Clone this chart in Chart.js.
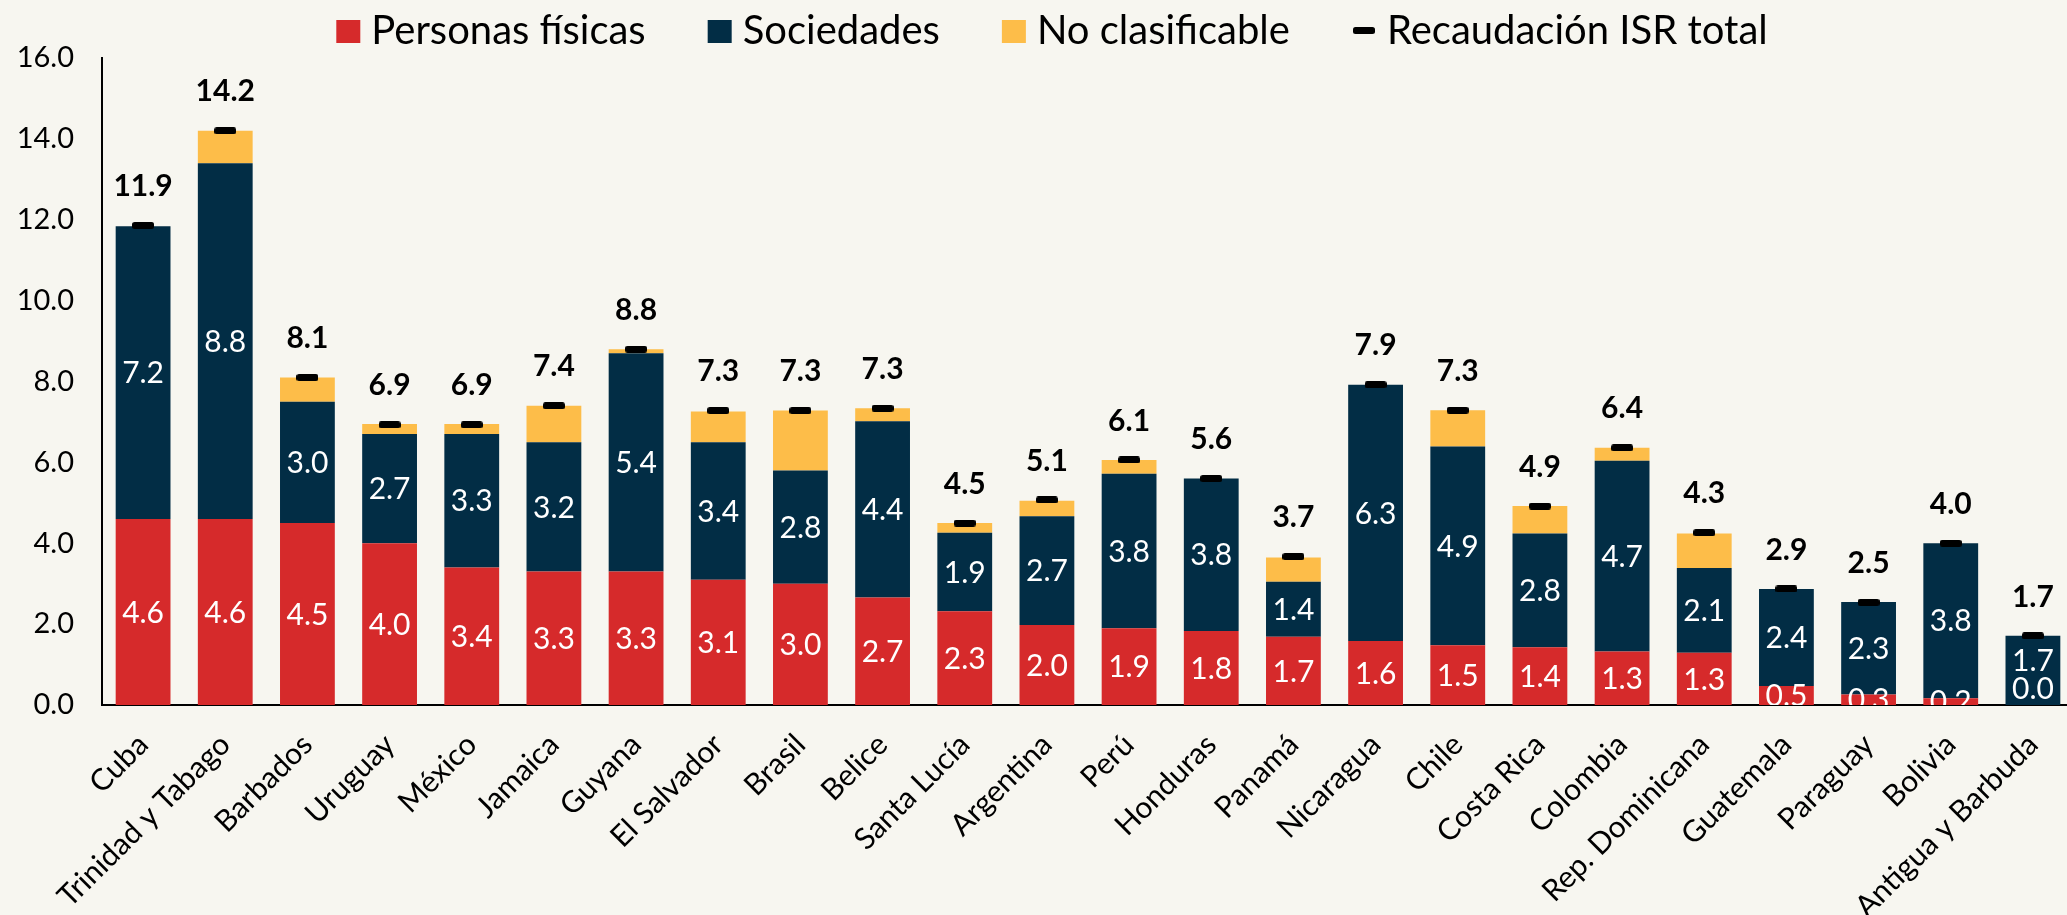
<!DOCTYPE html>
<html>
<head>
<meta charset="utf-8">
<script src="https://cdn.jsdelivr.net/npm/chart.js@4.4.1/dist/chart.umd.min.js"></script>
<style>
  html, body { margin: 0; padding: 0; background: #f7f6f0; overflow: hidden; }
  #wrap { width: 2086px; height: 915px; position: relative; }
</style>
</head>
<body>
<div id="wrap"><canvas id="myChart"></canvas></div>
<script>
// datos (% del PIB)
const paises = ['Cuba', 'Trinidad y Tabago', 'Barbados', 'Uruguay', 'México', 'Jamaica', 'Guyana',
  'El Salvador', 'Brasil', 'Belice', 'Santa Lucía', 'Argentina', 'Perú', 'Honduras', 'Panamá',
  'Nicaragua', 'Chile', 'Costa Rica', 'Colombia', 'Rep. Dominicana', 'Guatemala', 'Paraguay',
  'Bolivia', 'Antigua y Barbuda'];
const personasFisicas = [4.6, 4.6, 4.5, 4.0, 3.4, 3.3, 3.3, 3.1, 3.0, 2.66, 2.32, 1.98, 1.9, 1.83,
  1.69, 1.58, 1.48, 1.43, 1.32, 1.29, 0.47, 0.26, 0.17, 0.0];
const sociedades = [7.24, 8.8, 3.0, 2.7, 3.3, 3.2, 5.4, 3.4, 2.8, 4.36, 1.94, 2.69, 3.82, 3.77,
  1.36, 6.34, 4.91, 2.81, 4.72, 2.1, 2.4, 2.29, 3.83, 1.71];
const noClasificable = [0.0, 0.8, 0.6, 0.25, 0.25, 0.9, 0.1, 0.76, 1.48, 0.32, 0.24, 0.38, 0.34, 0.0,
  0.6, 0.0, 0.9, 0.68, 0.32, 0.85, 0.0, 0.0, 0.0, 0.0];
const recaudacionTotal = [11.86, 14.2, 8.1, 6.93, 6.93, 7.4, 8.8, 7.28, 7.28, 7.34, 4.5, 5.07, 6.06,
  5.6, 3.67, 7.92, 7.29, 4.92, 6.36, 4.26, 2.87, 2.54, 4.0, 1.71];
const yMin = 0, yMax = 16, yStep = 2;

const colRojo = '#d62a2b';
const colAzul = '#022d45';
const colAmarillo = '#fdbd49';
const fuente = 'Lato, "Open Sans", sans-serif';

// marcador de la recaudación total (guion negro redondeado)
const marca = document.createElement('canvas');
marca.width = 22; marca.height = 7;
(function () {
  const c = marca.getContext('2d');
  c.fillStyle = '#000';
  c.beginPath();
  c.roundRect(0, 0, 22, 7, 2.5);
  c.fill();
})();

// etiquetas de valores
const etiquetas = {
  id: 'etiquetas',
  afterDatasetsDraw(chart) {
    const ctx = chart.ctx;
    const area = chart.chartArea;
    const mRojo = chart.getDatasetMeta(0);
    const mAzul = chart.getDatasetMeta(1);
    const mTotal = chart.getDatasetMeta(3);
    ctx.save();
    ctx.beginPath();
    ctx.rect(area.left, area.top - 60, area.right - area.left, area.bottom - area.top + 60);
    ctx.clip();
    ctx.textAlign = 'center';
    ctx.textBaseline = 'middle';
    ctx.font = '30px ' + fuente;
    ctx.fillStyle = '#ffffff';
    paises.forEach((p, i) => {
      const r = mRojo.data[i];
      const a = mAzul.data[i];
      let yr = (r.y + r.base) / 2;
      if (personasFisicas[i] === 0) yr = r.base - 17;
      let ya = (a.y + a.base) / 2;
      if (ya > yr - 28) ya = yr - 28;
      ctx.fillText(personasFisicas[i].toFixed(1), r.x, yr + 1);
      ctx.fillText(sociedades[i].toFixed(1), a.x, ya + 1);
    });
    ctx.restore();

    ctx.save();
    ctx.textAlign = 'center';
    ctx.textBaseline = 'middle';
    ctx.font = 'bold 30px ' + fuente;
    ctx.fillStyle = '#000';
    paises.forEach((p, i) => {
      const t = mTotal.data[i];
      ctx.fillText(recaudacionTotal[i].toFixed(1), t.x, t.y - 39);
    });
    ctx.restore();
  }
};

// leyenda superior
const leyenda = {
  id: 'leyenda',
  afterDraw(chart) {
    const ctx = chart.ctx;
    const items = [
      { texto: 'Personas físicas', color: colRojo },
      { texto: 'Sociedades', color: colAzul },
      { texto: 'No clasificable', color: colAmarillo },
      { texto: 'Recaudación ISR total', marca: true }
    ];
    ctx.save();
    ctx.font = '40px ' + fuente;
    const caja = 24, sep = 11, hueco = 62;
    let total = 0;
    items.forEach((it, k) => {
      it.w = ctx.measureText(it.texto).width;
      total += caja + sep + it.w + (k ? hueco : 0);
    });
    let x = 1052 - total / 2;
    ctx.textBaseline = 'alphabetic';
    items.forEach(it => {
      if (it.marca) {
        ctx.drawImage(marca, x + 1, 27);
      } else {
        ctx.fillStyle = it.color;
        ctx.fillRect(x, 20, caja, 23);
      }
      ctx.fillStyle = '#000';
      ctx.fillText(it.texto, x + caja + sep, 44);
      x += caja + sep + it.w + hueco;
    });
    ctx.restore();
  }
};

const ctx = document.getElementById('myChart');
const myChart = new Chart(ctx, {
  type: 'bar',
  data: {
    labels: paises,
    datasets: [
      { label: 'Personas físicas', data: personasFisicas, backgroundColor: colRojo },
      { label: 'Sociedades', data: sociedades, backgroundColor: colAzul },
      { label: 'No clasificable', data: noClasificable, backgroundColor: colAmarillo },
      {
        type: 'line', label: 'Recaudación ISR total', data: recaudacionTotal,
        stack: 'total', order: -1, showLine: false,
        pointStyle: marca, pointRadius: 11, pointHoverRadius: 11,
        borderColor: '#000', backgroundColor: '#000'
      }
    ]
  },
  options: {
    responsive: true,
    maintainAspectRatio: false,
    animation: false,
    layout: { padding: { top: 58, left: 0, right: 0, bottom: 0 } },
    datasets: { bar: { barPercentage: 0.667, categoryPercentage: 1.0, borderWidth: 0 } },
    plugins: { legend: { display: false }, tooltip: { enabled: false } },
    scales: {
      x: {
        stacked: true,
        grid: { display: false },
        border: { display: true, color: '#000', width: 2 },
        ticks: {
          autoSkip: false, minRotation: 45, maxRotation: 45, padding: 14,
          color: '#000', font: { family: fuente, size: 30 }
        },
        afterFit(s) { s.height = 210; }
      },
      y: {
        stacked: true,
        min: yMin, max: yMax,
        grid: { display: false },
        border: { display: true, color: '#000', width: 2 },
        ticks: {
          stepSize: yStep, padding: 20, color: '#000',
          font: { family: fuente, size: 29 },
          callback: v => v.toFixed(1)
        },
        afterFit(s) { s.width = 102; }
      }
    }
  },
  plugins: [etiquetas, leyenda]
});
</script>
</body>
</html>
